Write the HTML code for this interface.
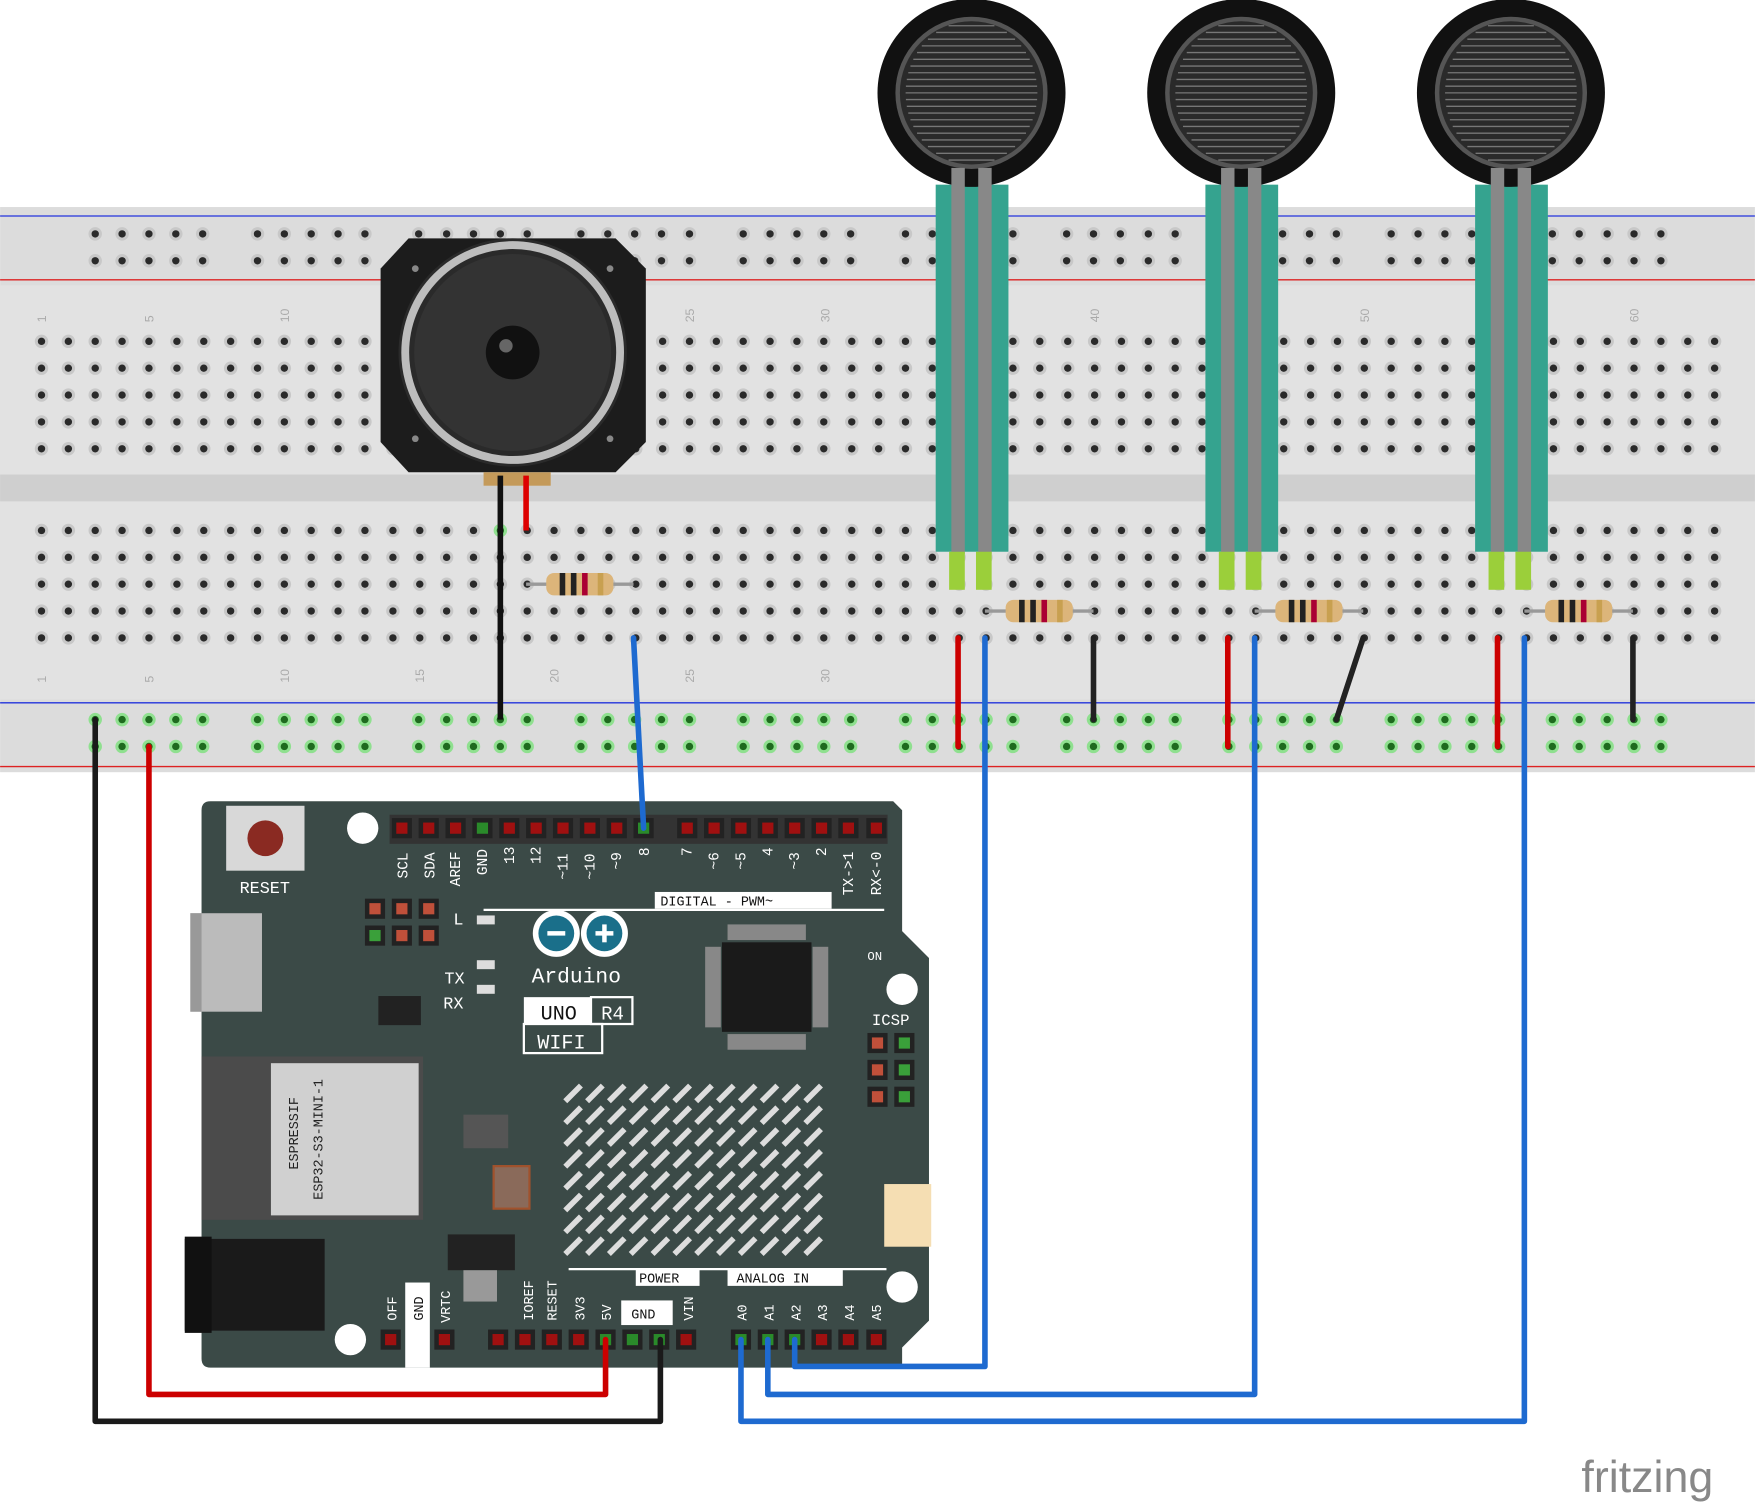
<!DOCTYPE html>
<html><head><meta charset="utf-8"><style>html,body{margin:0;padding:0;background:#fff}svg{display:block}</style></head>
<body>
<svg id="s" xmlns="http://www.w3.org/2000/svg" width="1755" height="1503" viewBox="0 0 1568 1343" font-family="Liberation Mono, monospace">
<rect width="1568" height="1343" fill="#fff"/>
<rect x="0" y="185" width="1568" height="505" fill="#dcdcdc"/>
<rect x="0" y="255" width="1568" height="370" fill="#e2e2e2"/>
<rect x="0" y="424" width="1568" height="24" fill="#cfcfcf"/>
<line x1="0" y1="193" x2="1568" y2="193" stroke="#2233dd" stroke-width="1.2"/>
<line x1="0" y1="250" x2="1568" y2="250" stroke="#dd2222" stroke-width="1.2"/>
<line x1="0" y1="628" x2="1568" y2="628" stroke="#2233dd" stroke-width="1.2"/>
<line x1="0" y1="685" x2="1568" y2="685" stroke="#dd2222" stroke-width="1.2"/>
<g id="holes"></g>
<g font-size="11" fill="#aaa" font-family="Liberation Sans, sans-serif">
<text transform="translate(41,288) rotate(-90)">1</text><text transform="translate(137,288) rotate(-90)">5</text><text transform="translate(258,288) rotate(-90)">10</text><text transform="translate(620,288) rotate(-90)">25</text><text transform="translate(741,288) rotate(-90)">30</text><text transform="translate(982,288) rotate(-90)">40</text><text transform="translate(1223,288) rotate(-90)">50</text><text transform="translate(1464,288) rotate(-90)">60</text>
<text transform="translate(41,610) rotate(-90)">1</text><text transform="translate(137,610) rotate(-90)">5</text><text transform="translate(258,610) rotate(-90)">10</text><text transform="translate(379,610) rotate(-90)">15</text><text transform="translate(499,610) rotate(-90)">20</text><text transform="translate(620,610) rotate(-90)">25</text><text transform="translate(741,610) rotate(-90)">30</text>
</g>
<path d="M365,213 H550 L577,240 V395 L550,422 H365 L340,395 V240 Z" fill="#1c1c1c"/>
<circle cx="458" cy="315" r="102" fill="#2a2a2a"/>
<circle cx="458" cy="315" r="96" fill="none" stroke="#bdbdbd" stroke-width="7"/>
<circle cx="458" cy="315" r="88" fill="#333"/>
<circle cx="458" cy="315" r="24" fill="#111"/><circle cx="452" cy="309" r="6" fill="#666"/>
<circle cx="371" cy="240" r="3" fill="#888"/><circle cx="545" cy="240" r="3" fill="#888"/><circle cx="371" cy="392" r="3" fill="#888"/><circle cx="545" cy="392" r="3" fill="#888"/>
<rect x="432" y="422" width="60" height="12" fill="#c49a5a"/>
<line x1="447" y1="425" x2="447" y2="643" stroke="#111" stroke-width="5"/>
<line x1="470" y1="425" x2="470" y2="474" stroke="#d00" stroke-width="5"/>
<g id="fsr"></g>
<g id="res"></g>
<g stroke-width="5" stroke-linecap="round" fill="none">
<line x1="856" y1="570" x2="856" y2="667" stroke="#c00"/>
<line x1="1097" y1="570" x2="1097" y2="667" stroke="#c00"/>
<line x1="1338" y1="570" x2="1338" y2="667" stroke="#c00"/>
<line x1="977" y1="570" x2="977" y2="643" stroke="#222"/>
<line x1="1218" y1="570" x2="1194" y2="643" stroke="#222"/>
<line x1="1459" y1="570" x2="1459" y2="643" stroke="#222"/>
</g>
<path d="M188,716 H798 L806,724 V832 L830,856 V1180 L806,1204 V1222 H188 Q180,1222 180,1214 V724 Q180,716 188,716 Z" fill="#3b4a47"/>
<rect x="202" y="720" width="70" height="58" fill="#d8d8d8"/><circle cx="237" cy="749" r="16" fill="#8a2a22"/>
<text x="214" y="798" font-size="15" fill="#fff">RESET</text>
<circle cx="324" cy="740" r="14" fill="#fff"/><circle cx="806" cy="884" r="14" fill="#fff"/><circle cx="806" cy="1150" r="14" fill="#fff"/><circle cx="313" cy="1197" r="14" fill="#fff"/>
<rect x="170" y="816" width="64" height="88" fill="#bbb"/><rect x="170" y="816" width="10" height="88" fill="#999"/>
<rect x="180" y="944" width="198" height="146" fill="#4b4b4b"/><rect x="242" y="950" width="132" height="136" fill="#d0d0d0"/>
<text transform="translate(266,1045) rotate(-90)" font-size="12" fill="#222">ESPRESSIF</text>
<text transform="translate(288,1072) rotate(-90)" font-size="12" fill="#222">ESP32-S3-MINI-1</text>
<rect x="165" y="1107" width="125" height="82" fill="#1a1a1a"/><rect x="165" y="1105" width="24" height="86" fill="#111"/>
<rect x="348" y="728" width="445" height="26" fill="#333"/>
<g id="pins"></g>
<g font-size="13" fill="#fff">
<text transform="translate(364,785) rotate(-90)">SCL</text><text transform="translate(388,785) rotate(-90)">SDA</text><text transform="translate(411,792) rotate(-90)">AREF</text><text transform="translate(435,782) rotate(-90)">GND</text><text transform="translate(459,772) rotate(-90)">13</text><text transform="translate(483,772) rotate(-90)">12</text><text transform="translate(507,786) rotate(-90)">~11</text><text transform="translate(531,786) rotate(-90)">~10</text><text transform="translate(555,777) rotate(-90)">~9</text><text transform="translate(580,765) rotate(-90)">8</text>
<text transform="translate(618,765) rotate(-90)">7</text><text transform="translate(642,777) rotate(-90)">~6</text><text transform="translate(666,777) rotate(-90)">~5</text><text transform="translate(690,765) rotate(-90)">4</text><text transform="translate(714,777) rotate(-90)">~3</text><text transform="translate(738,765) rotate(-90)">2</text><text transform="translate(762,800) rotate(-90)">TX-&gt;1</text><text transform="translate(787,800) rotate(-90)">RX&lt;-0</text>
<text x="397" y="879" font-size="15">TX</text><text x="396" y="901" font-size="15">RX</text><text x="405" y="826" font-size="15">L</text><text x="775" y="858" font-size="11">ON</text><text x="779" y="916" font-size="14">ICSP</text>
</g>
<rect x="426" y="858" width="16" height="8" fill="#ddd"/><rect x="426" y="880" width="16" height="8" fill="#ddd"/><rect x="426" y="818" width="16" height="8" fill="#ddd"/>
<line x1="432" y1="813" x2="790" y2="813" stroke="#fff" stroke-width="2"/>
<rect x="585" y="797" width="158" height="15" fill="#fff"/><text x="590" y="809" font-size="12" fill="#111">DIGITAL - PWM~</text>
<circle cx="497" cy="834" r="21" fill="#fff"/><circle cx="540" cy="834" r="21" fill="#fff"/>
<circle cx="497" cy="834" r="16" fill="#1a6f8a"/><circle cx="540" cy="834" r="16" fill="#1a6f8a"/>
<rect x="489" y="832" width="16" height="4" fill="#fff"/><rect x="532" y="832" width="16" height="4" fill="#fff"/><rect x="538" y="826" width="4" height="16" fill="#fff"/>
<text x="475" y="878" font-size="19" fill="#fff">Arduino</text>
<rect x="468" y="891" width="60" height="24" fill="#fff"/><rect x="528" y="891" width="37" height="24" fill="none" stroke="#fff" stroke-width="2"/><rect x="468" y="915" width="70" height="26" fill="none" stroke="#fff" stroke-width="2"/>
<text x="483" y="911" font-size="18" fill="#111">UNO</text><text x="537" y="911" font-size="17" fill="#fff">R4</text><text x="480" y="937" font-size="18" fill="#fff">WIFI</text>
<rect x="650" y="826" width="70" height="14" fill="#888"/><rect x="650" y="924" width="70" height="14" fill="#888"/><rect x="630" y="846" width="14" height="72" fill="#888"/><rect x="726" y="846" width="14" height="72" fill="#888"/>
<rect x="645" y="842" width="80" height="80" fill="#1a1a1a"/>
<g id="matrix"></g>
<rect x="414" y="996" width="40" height="30" fill="#555"/>
<rect x="441" y="1042" width="32" height="38" fill="#8a6a5a" stroke="#a0522d" stroke-width="2"/>
<rect x="400" y="1103" width="60" height="32" fill="#222"/><rect x="414" y="1135" width="30" height="28" fill="#999"/>
<rect x="790" y="1058" width="42" height="56" fill="#f5deb3"/>
<rect x="338" y="890" width="38" height="26" fill="#222"/>
<line x1="508" y1="1134" x2="792" y2="1134" stroke="#fff" stroke-width="2"/>
<rect x="568" y="1134" width="57" height="15" fill="#fff"/><text x="571" y="1146" font-size="12" fill="#111">POWER</text>
<rect x="650" y="1134" width="103" height="15" fill="#fff"/><text x="658" y="1146" font-size="12" fill="#111">ANALOG IN</text>
<rect x="555" y="1162" width="46" height="22" fill="#fff"/><text x="564" y="1178" font-size="12" fill="#111">GND</text>
<rect x="362" y="1146" width="22" height="76" fill="#fff"/>
<g font-size="12" fill="#fff">
<text transform="translate(354,1180) rotate(-90)">OFF</text><text transform="translate(378,1180) rotate(-90)" fill="#111">GND</text><text transform="translate(402,1182) rotate(-90)">VRTC</text>
<text transform="translate(476,1180) rotate(-90)">IOREF</text><text transform="translate(497,1180) rotate(-90)">RESET</text><text transform="translate(522,1180) rotate(-90)">3V3</text><text transform="translate(546,1180) rotate(-90)">5V</text><text transform="translate(619,1180) rotate(-90)">VIN</text>
<text transform="translate(667,1180) rotate(-90)">A0</text><text transform="translate(691,1180) rotate(-90)">A1</text><text transform="translate(715,1180) rotate(-90)">A2</text><text transform="translate(739,1180) rotate(-90)">A3</text><text transform="translate(763,1180) rotate(-90)">A4</text><text transform="translate(787,1180) rotate(-90)">A5</text>
</g>
<g stroke-width="5" stroke-linecap="round" stroke-linejoin="round" fill="none">
<polyline points="85,643 85,1270 590,1270 590,1197" stroke="#1a1a1a"/>
<polyline points="133,667 133,1246 541,1246 541,1197" stroke="#c00"/>
<polyline points="566,570 575,740" stroke="#1e6ad0"/>
<polyline points="880,570 880,1221 710,1221 710,1197" stroke="#1e6ad0"/>
<polyline points="1121,570 1121,1246 686,1246 686,1197" stroke="#1e6ad0"/>
<polyline points="1362,570 1362,1270 662,1270 662,1197" stroke="#1e6ad0"/>
</g>
<text x="1413" y="1333" font-size="40" fill="#888" font-family="Liberation Sans, sans-serif">fritzing</text>
<script>
var ns="http://www.w3.org/2000/svg";function el(p,t,a){var e=document.createElementNS(ns,t);for(var k in a)e.setAttribute(k,a[k]);p.appendChild(e);return e}
var H=document.getElementById('holes');
var green={};function g(x,y){green[x+','+y]=1}
[[447,474],[470,474],[470,522],[470,570],[566,474],[566,498],[566,522],[566,546],[566,570]].forEach(function(p){g(p[0],p[1])});
[0,1,2].forEach(function(i){var o=i*241;[856,880,977].forEach(function(x){g(x+o,546);g(x+o,570)});[474,498,522].forEach(function(y){g(977+o,y)})});
function hole(x,y){var gr=green[Math.round(x)+','+y];el(H,'circle',{cx:x,cy:y,r:6,fill:gr?'#8fe08f':'#c8c8c8'});el(H,'circle',{cx:x,cy:y,r:3.3,fill:gr?'#1e6a1e':'#2a2a2a'})}
[305,329,353,377,401,474,498,522,546,570].forEach(function(y){for(var c=0;c<63;c++){hole(Math.round(37+c*24.12),y)}});
for(var gi=0;gi<10;gi++)for(var j=0;j<5;j++){var x=Math.round(85+gi*144.7+j*24.12);[209,233].forEach(function(y){hole(x,y)});[643,667].forEach(function(y){green[x+','+y]=1;hole(x,y)})}
var F=document.getElementById('fsr');
[868,1109,1350].forEach(function(cx){el(F,'rect',{x:cx-32,y:165,width:65,height:328,fill:'#35a38f'});
el(F,'circle',{cx:cx,cy:83,r:84,fill:'#111'});el(F,'circle',{cx:cx,cy:83,r:68,fill:'#555'});el(F,'circle',{cx:cx,cy:83,r:64,fill:'#2a2a2a'});
for(var k=-60;k<=60;k+=6){var w=Math.sqrt(64*64-k*k)*0.92;el(F,'line',{x1:cx-w,y1:83+k,x2:cx+w,y2:83+k,stroke:'#777','stroke-width':1.2})}
el(F,'rect',{x:cx-18,y:150,width:12,height:345,fill:'#888'});el(F,'rect',{x:cx+6,y:150,width:12,height:345,fill:'#888'});
el(F,'rect',{x:cx-20,y:493,width:14,height:34,fill:'#9bcf3a'});el(F,'rect',{x:cx+4,y:493,width:14,height:34,fill:'#9bcf3a'})});
var R=document.getElementById('res');
function res(x1,x2,y){el(R,'line',{x1:x1,y1:y,x2:x2,y2:y,stroke:'#999','stroke-width':3});var m=(x1+x2)/2;el(R,'rect',{x:m-30,y:y-10,width:60,height:20,rx:7,fill:'#dcb57a'});
[['#222',-18],['#222',-8],['#a03',2],['#c8a050',16]].forEach(function(b){el(R,'rect',{x:m+b[1],y:y-10,width:5,height:20,fill:b[0]})})}
res(470,566,522);res(880,977,546);res(1121,1218,546);res(1362,1459,546);
var P=document.getElementById('pins');
function pin(x,y,c){el(P,'rect',{x:x-9,y:y-9,width:18,height:18,fill:'#222'});el(P,'rect',{x:x-5,y:y-5,width:10,height:10,fill:c})}
[359,383,407,431,455,479,503,527,551,575,614,638,662,686,710,734,758,783].forEach(function(x){pin(x,740,x==431||x==575?'#2a8a2a':'#a01010')});
[349,373,397,445,469,493,517,541,565,589,613,662,686,710,734,758,783].forEach(function(x){pin(x,1197,(x==373||x==565||x==589||x==541||x==662||x==686||x==710)?'#2a8a2a':'#a01010')});
[[335,812],[359,812],[383,812],[359,836],[383,836]].forEach(function(p){pin(p[0],p[1],'#c0503a')});pin(335,836,'#3aa03a');
[932,956,980].forEach(function(y){pin(784,y,'#c0503a');pin(808,y,'#3aa03a')});
var M=document.getElementById('matrix');
for(var r=0;r<8;r++)for(var c=0;c<12;c++){var x=505+c*19.5,y=970+r*19.5;el(M,'line',{x1:x,y1:y+14,x2:x+14,y2:y,stroke:'#ddd','stroke-width':5})}
</script>
</svg>
</body></html>
